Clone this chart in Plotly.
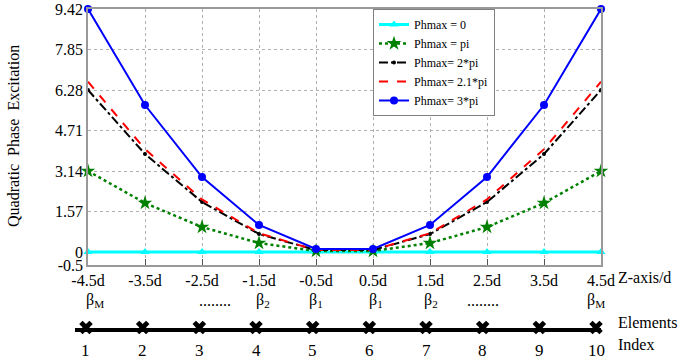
import plotly.graph_objects as go

# ---------------- data ----------------
z_positions = [-4.5, -3.5, -2.5, -1.5, -0.5, 0.5, 1.5, 2.5, 3.5, 4.5]
z_tick_labels = ["-4.5d", "-3.5d", "-2.5d", "-1.5d", "-0.5d", "0.5d", "1.5d", "2.5d", "3.5d", "4.5d"]

phase_0 = [0, 0, 0, 0, 0, 0, 0, 0, 0, 0]
phase_pi = [3.14, 1.90, 0.97, 0.35, 0.04, 0.04, 0.35, 0.97, 1.90, 3.14]
phase_2pi = [6.28, 3.80, 1.94, 0.70, 0.08, 0.08, 0.70, 1.94, 3.80, 6.28]
phase_21pi = [6.60, 3.99, 2.04, 0.73, 0.08, 0.08, 0.73, 2.04, 3.99, 6.60]
phase_3pi = [9.42, 5.70, 2.91, 1.05, 0.12, 0.12, 1.05, 2.91, 5.70, 9.42]

series_names = ["Phmax = 0", "Phmax = pi", "Phmax= 2*pi", "Phmax= 2.1*pi", "Phmax= 3*pi"]

y_tick_values = [-0.5, 0, 1.57, 3.14, 4.71, 6.28, 7.85, 9.42]
y_tick_labels = ["-0.5", "0", "1.57", "3.14", "4.71", "6.28", "7.85", "9.42"]

element_index = [1, 2, 3, 4, 5, 6, 7, 8, 9, 10]
beta_elements = [1, 3, 4, 5, 6, 7, 8, 10]
beta_labels = ["β<sub>M</sub>", "........", "β<sub>2</sub>", "β<sub>1</sub>",
               "β<sub>1</sub>", "β<sub>2</sub>", "........", "β<sub>M</sub>"]

# ---------------- style ----------------
FONT = "Liberation Serif"
W, H = 686, 363
ML, MR, MT, MB = 60, 85, 9, 5
PW = W - ML - MR
PH = H - MT - MB


def px_x(p):
    """page pixel x -> paper fraction"""
    return (p - ML) / PW


def px_y(p):
    """page pixel y -> paper fraction"""
    return (H - MB - p) / PH


beta_xshift = [9, 16, 7, 3, 7, 5, 0, 0]

fig = go.Figure()

styles = [
    dict(color="#00FFFF", width=3, dash="solid", symbol="triangle-up", size=8, mode="lines+markers"),
    dict(color="#008000", width=2.5, dash="dot", symbol="star", size=11, mode="lines+markers"),
    dict(color="#000000", width=2, dash="dashdot", symbol="circle", size=4, mode="lines+markers"),
    dict(color="#FF0000", width=2, dash="dash", symbol="circle", size=1, mode="lines"),
    dict(color="#0000FF", width=2, dash="solid", symbol="circle", size=8, mode="lines+markers"),
]
series = [phase_0, phase_pi, phase_2pi, phase_21pi, phase_3pi]

for name, vals, st in zip(series_names, series, styles):
    fig.add_trace(go.Scatter(
        x=z_positions, y=vals, name=name, mode=st["mode"],
        line=dict(color=st["color"], width=st["width"], dash=st["dash"]),
        marker=dict(symbol=st["symbol"], size=st["size"], color=st["color"]),
        cliponaxis=False,
    ))

# element row
fig.add_trace(go.Scatter(
    x=element_index, y=[0] * len(element_index), xaxis="x2", yaxis="y2",
    mode="markers", showlegend=False, cliponaxis=False,
    marker=dict(symbol="x", size=12, color="black", line=dict(width=0)),
))

fig.update_layout(
    width=W, height=H,
    margin=dict(l=ML, r=MR, t=MT, b=MB, autoexpand=False),
    paper_bgcolor="white", plot_bgcolor="white",
    font=dict(family=FONT, size=16, color="black"),
    xaxis=dict(
        domain=[px_x(88), 1], range=[-4.5, 4.5], anchor="y", automargin=False,
        tickvals=z_positions, ticktext=z_tick_labels, ticklabeloverflow="allow",
        showline=True, mirror=True, linecolor="#999999", linewidth=1.5,
        showgrid=True, gridcolor="#b0b0b0", griddash="dot", gridwidth=1,
        ticks="inside", ticklen=6, tickcolor="#555555", zeroline=False,
        tickfont=dict(family=FONT, size=16),
    ),
    yaxis=dict(
        domain=[px_y(265), 1], range=[-0.5, 9.42], anchor="x", automargin=False,
        tickvals=y_tick_values, ticktext=y_tick_labels, ticklabeloverflow="allow",
        showline=True, mirror=True, linecolor="#999999", linewidth=1.5,
        showgrid=True, gridcolor="#b0b0b0", griddash="dot", gridwidth=1,
        zeroline=False, ticks="", tickfont=dict(family=FONT, size=16),
    ),
    xaxis2=dict(
        domain=[px_x(75), 1], range=[0.806, 10.088], anchor="y2", automargin=False,
        showline=True, linecolor="black", linewidth=4,
        showgrid=False, zeroline=False, showticklabels=False, ticks="",
    ),
    yaxis2=dict(
        domain=[px_y(327.5), px_y(310)], range=[0, 1], anchor="x2", automargin=False,
        visible=False,
    ),
    legend=dict(
        x=px_x(373), y=1.0, xanchor="left", yanchor="top",
        bgcolor="white", bordercolor="#808080", borderwidth=1,
        font=dict(family=FONT, size=12), tracegroupgap=0, itemwidth=30,
    ),
    showlegend=True,
)

annotations = []
# y title
annotations.append(dict(
    text="Quadratic  Phase  Excitation", textangle=-90,
    xref="paper", yref="paper", x=px_x(13), y=px_y(136),
    xanchor="center", yanchor="middle",
    showarrow=False, font=dict(family=FONT, size=16),
))
side_labels = [("Z-axis/d", 277), ("Elements", 322), ("Index", 344)]
for txt, py in side_labels:
    annotations.append(dict(
        text=txt, xref="paper", yref="paper", x=px_x(616), y=px_y(py),
        xanchor="left", yanchor="middle", showarrow=False,
        font=dict(family=FONT, size=16),
    ))
for e, lab, xs in zip(beta_elements, beta_labels, beta_xshift):
    annotations.append(dict(
        text=lab, xref="x2", yref="paper", x=e, y=px_y(300), xshift=xs,
        xanchor="center", yanchor="middle",
        showarrow=False, font=dict(family=FONT, size=16),
    ))
for e in element_index:
    annotations.append(dict(
        text=str(e), xref="x2", yref="paper", x=e, y=px_y(350),
        xanchor="center", yanchor="middle",
        showarrow=False, font=dict(family=FONT, size=17),
    ))
fig.update_layout(annotations=annotations)

# remove the browser's default 8px body margin so the figure sits at the page origin
fig.write_html(
    "out.html",
    config={"displayModeBar": False},
    post_script="document.body.style.margin='0px';",
)
